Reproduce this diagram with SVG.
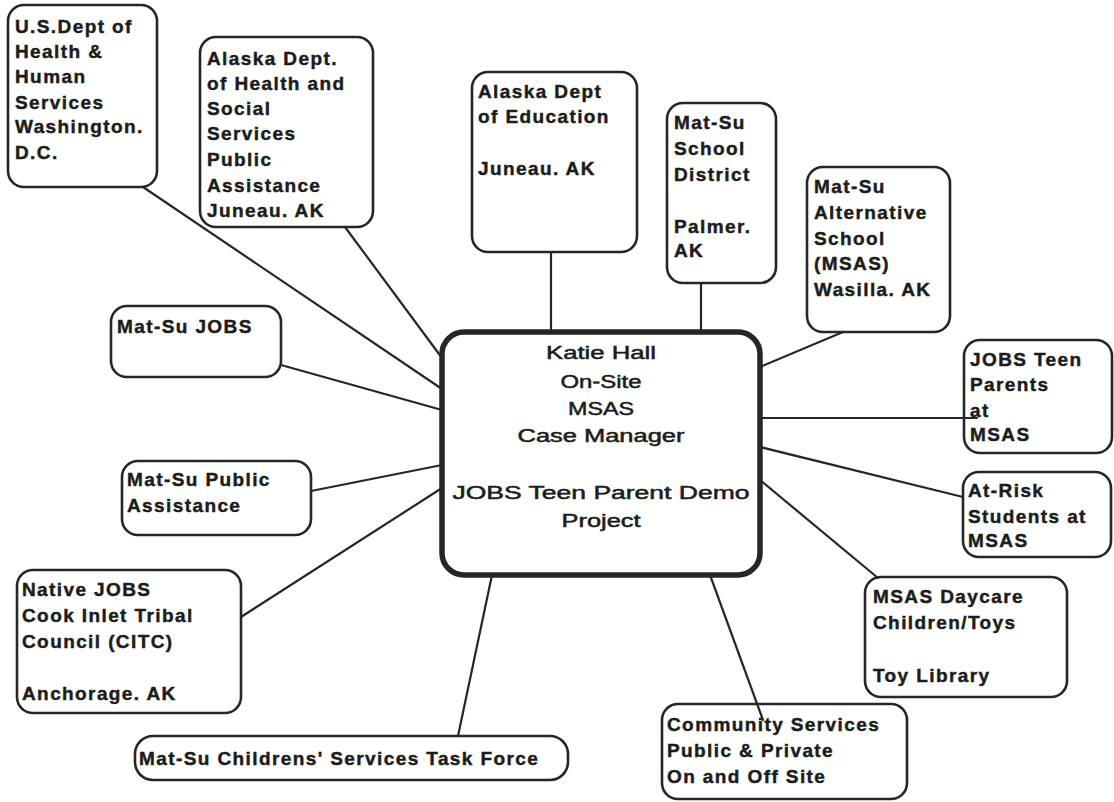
<svg xmlns="http://www.w3.org/2000/svg" width="1114" height="802" viewBox="0 0 1114 802">
<style>
.box{fill:#fff;stroke:#262626;stroke-width:2.6}
.hub{fill:#fff;stroke:#262626;stroke-width:5.5}
.t{font-family:"Liberation Sans",Arial,sans-serif;font-weight:bold;font-size:19px;letter-spacing:1.4px;fill:#1c1c1c;stroke:#1c1c1c;stroke-width:0.45}
.c{font-family:"Liberation Sans",Arial,sans-serif;font-size:18px;fill:#1c1c1c;stroke:#1c1c1c;stroke-width:0.5;text-anchor:middle}
.ln{stroke:#262626;stroke-width:2.2;fill:none;stroke-linecap:round}
</style>
<rect width="1114" height="802" fill="#fff"/>

<g id="hub">
<rect class="hub" x="442" y="332" width="318" height="243" rx="22"/>
<text class="c" x="601" y="359" textLength="110" lengthAdjust="spacingAndGlyphs">Katie Hall</text>
<text class="c" x="601" y="388" textLength="81" lengthAdjust="spacingAndGlyphs">On-Site</text>
<text class="c" x="601" y="415" textLength="66" lengthAdjust="spacingAndGlyphs">MSAS</text>
<text class="c" x="601" y="442" textLength="167" lengthAdjust="spacingAndGlyphs">Case Manager</text>
<text class="c" x="601" y="499" textLength="297" lengthAdjust="spacingAndGlyphs">JOBS Teen Parent Demo</text>
<text class="c" x="601" y="527" textLength="79" lengthAdjust="spacingAndGlyphs">Project</text>
</g>

<g id="us-dhhs">
<rect class="box" x="8" y="5" width="149" height="182" rx="16"/>
<text class="t" x="15" y="33">U.S.Dept of</text>
<text class="t" x="15" y="58">Health &amp;</text>
<text class="t" x="15" y="83">Human</text>
<text class="t" x="15" y="109">Services</text>
<text class="t" x="15" y="133">Washington.</text>
<text class="t" x="15" y="159">D.C.</text>
</g>

<g id="ak-dhss">
<rect class="box" x="200" y="37" width="173" height="190" rx="16"/>
<text class="t" x="207" y="65">Alaska Dept.</text>
<text class="t" x="207" y="90">of Health and</text>
<text class="t" x="207" y="115">Social</text>
<text class="t" x="207" y="140">Services</text>
<text class="t" x="207" y="166">Public</text>
<text class="t" x="207" y="192">Assistance</text>
<text class="t" x="207" y="217">Juneau. AK</text>
</g>

<g id="ak-education">
<rect class="box" x="472" y="72" width="165" height="180" rx="16"/>
<text class="t" x="478" y="98">Alaska Dept</text>
<text class="t" x="478" y="123">of Education</text>
<text class="t" x="478" y="175">Juneau. AK</text>
</g>

<g id="matsu-school-district">
<rect class="box" x="667" y="103" width="109" height="180" rx="16"/>
<text class="t" x="674" y="129">Mat-Su</text>
<text class="t" x="674" y="155">School</text>
<text class="t" x="674" y="181">District</text>
<text class="t" x="674" y="233">Palmer.</text>
<text class="t" x="674" y="257">AK</text>
</g>

<g id="matsu-alternative-school">
<rect class="box" x="807" y="167" width="143" height="165" rx="16"/>
<text class="t" x="814" y="193">Mat-Su</text>
<text class="t" x="814" y="219">Alternative</text>
<text class="t" x="814" y="245">School</text>
<text class="t" x="814" y="270">(MSAS)</text>
<text class="t" x="814" y="296">Wasilla. AK</text>
</g>

<g id="matsu-jobs">
<rect class="box" x="111" y="306" width="170" height="71" rx="16"/>
<text class="t" x="117" y="333">Mat-Su JOBS</text>
</g>

<g id="matsu-public-assistance">
<rect class="box" x="122" y="461" width="189" height="74" rx="16"/>
<text class="t" x="127" y="486">Mat-Su Public</text>
<text class="t" x="127" y="512">Assistance</text>
</g>

<g id="native-jobs">
<rect class="box" x="17" y="570" width="224" height="143" rx="16"/>
<text class="t" x="22" y="596">Native JOBS</text>
<text class="t" x="22" y="622">Cook Inlet Tribal</text>
<text class="t" x="22" y="648">Council (CITC)</text>
<text class="t" x="22" y="700">Anchorage. AK</text>
</g>

<g id="childrens-task-force">
<rect class="box" x="135" y="736" width="433" height="44" rx="18"/>
<text class="t" x="139" y="765">Mat-Su Childrens' Services Task Force</text>
</g>

<g id="community-services">
<rect class="box" x="662" y="704" width="245" height="95" rx="16"/>
<text class="t" x="667" y="731">Community Services</text>
<text class="t" x="667" y="757">Public &amp; Private</text>
<text class="t" x="667" y="783">On and Off Site</text>
</g>

<g id="msas-daycare">
<rect class="box" x="865" y="577" width="202" height="120" rx="16"/>
<text class="t" x="873" y="603">MSAS Daycare</text>
<text class="t" x="873" y="629">Children/Toys</text>
<text class="t" x="873" y="682">Toy Library</text>
</g>

<g id="jobs-teen-parents">
<rect class="box" x="964" y="340" width="148" height="113" rx="16"/>
<text class="t" x="970" y="366">JOBS Teen</text>
<text class="t" x="970" y="391">Parents</text>
<text class="t" x="970" y="417">at</text>
<text class="t" x="970" y="441">MSAS</text>
</g>

<g id="at-risk-students">
<rect class="box" x="963" y="472" width="148" height="85" rx="16"/>
<text class="t" x="968" y="497">At-Risk</text>
<text class="t" x="968" y="523">Students at</text>
<text class="t" x="968" y="547">MSAS</text>
</g>

<g id="connectors">
<line class="ln" x1="143" y1="187" x2="442" y2="389"/>
<line class="ln" x1="345" y1="227" x2="442" y2="358"/>
<line class="ln" x1="551" y1="252" x2="551" y2="332"/>
<line class="ln" x1="701" y1="283" x2="701" y2="332"/>
<line class="ln" x1="843" y1="332" x2="760" y2="367"/>
<line class="ln" x1="760" y1="418" x2="977" y2="418"/>
<line class="ln" x1="760" y1="447" x2="963" y2="497"/>
<line class="ln" x1="760" y1="480" x2="878" y2="578"/>
<line class="ln" x1="710" y1="575" x2="763" y2="720"/>
<line class="ln" x1="492" y1="575" x2="458" y2="736"/>
<line class="ln" x1="241" y1="617" x2="442" y2="488"/>
<line class="ln" x1="311" y1="491" x2="442" y2="465"/>
<line class="ln" x1="281" y1="365" x2="442" y2="410"/>
</g>
</svg>
